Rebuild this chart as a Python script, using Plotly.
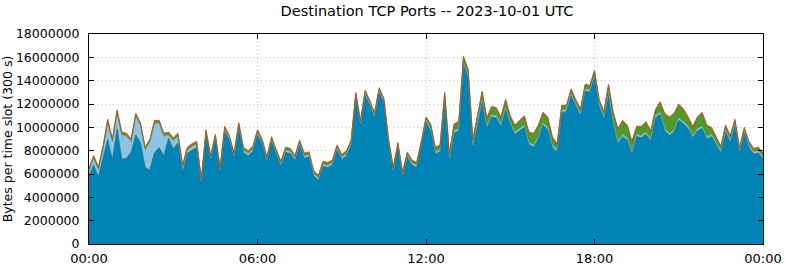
import pandas as pd
import plotly.graph_objects as go

# time slots (10-minute sampling of the day)
times = pd.date_range("2023-10-01 00:00", periods=145, freq="10min")

# values in millions of bytes per time slot
dark_blue_mb = [
    5.85, 6.75, 5.75, 7.35, 8.95, 7.15, 9.85, 7.25, 7.35, 7.85,
    9.35, 8.65, 6.55, 6.35, 7.85, 8.25, 7.55, 9.05, 8.15, 8.65,
    6.15, 7.75, 8.05, 8.25, 5.15, 9.35, 7.15, 8.95, 6.15, 9.65,
    8.85, 7.35, 9.95, 7.85, 7.55, 7.95, 9.35, 8.55, 7.05, 8.75,
    7.65, 6.65, 7.85, 7.75, 7.15, 8.45, 7.35, 7.45, 5.85, 5.45,
    6.65, 6.55, 6.75, 8.05, 7.25, 7.55, 8.45, 12.55, 10.15, 12.75,
    11.85, 10.85, 12.95, 12.05, 8.55, 6.15, 8.25, 5.75, 7.45, 6.75,
    6.55, 8.35, 10.4, 9.7, 7.7, 7.9, 12.3, 7.1, 9.5, 9.7,
    15.4, 14.3, 8.3, 10.2, 12.2, 9.9, 10.9, 10.8, 10.1, 11.5,
    10.2, 9.4, 9.7, 10.0, 8.5, 8.3, 9.0, 10.2, 9.8, 8.3,
    7.9, 11.3, 11.3, 12.7, 11.8, 11.0, 13.1, 13.0, 14.3, 11.8,
    10.7, 12.8, 10.2, 8.6, 9.2, 8.9, 7.7, 9.2, 9.1, 9.4,
    8.8, 10.8, 11.1, 9.7, 9.3, 9.6, 10.6, 10.3, 9.9, 9.1,
    9.7, 9.9, 9.0, 9.2, 8.5, 7.8, 9.6, 8.7, 10.1, 7.8,
    9.5, 8.3, 7.7, 7.8, 7.3,
]

light_blue_mb = [
    0.4, 0.6, 0.6, 0.8, 1.5, 1.6, 1.4, 2.1, 1.9, 0.9,
    1.6, 1.5, 1.5, 2.4, 2.5, 2.1, 1.7, 0.3, 0.7, 0.6,
    0.4, 0.3, 0.3, 0.3, 0.2, 0.2, 0.2, 0.2, 0.2, 0.2,
    0.2, 0.2, 0.2, 0.2, 0.2, 0.2, 0.2, 0.2, 0.2, 0.2,
    0.2, 0.2, 0.2, 0.2, 0.2, 0.2, 0.2, 0.2, 0.2, 0.2,
    0.2, 0.2, 0.2, 0.2, 0.2, 0.2, 0.2, 0.2, 0.2, 0.2,
    0.2, 0.2, 0.2, 0.2, 0.2, 0.2, 0.2, 0.2, 0.2, 0.2,
    0.2, 0.2, 0.2, 0.2, 0.2, 0.2, 0.2, 0.2, 0.2, 0.2,
    0.2, 0.2, 0.2, 0.2, 0.2, 0.2, 0.2, 0.2, 0.2, 0.2,
    0.2, 0.2, 0.2, 0.2, 0.2, 0.2, 0.2, 0.2, 0.2, 0.2,
    0.2, 0.2, 0.2, 0.2, 0.2, 0.2, 0.2, 0.2, 0.2, 0.2,
    0.2, 0.2, 0.2, 0.2, 0.2, 0.2, 0.2, 0.2, 0.2, 0.2,
    0.2, 0.2, 0.2, 0.2, 0.2, 0.2, 0.2, 0.2, 0.2, 0.2,
    0.2, 0.2, 0.2, 0.2, 0.2, 0.2, 0.2, 0.2, 0.2, 0.2,
    0.2, 0.2, 0.2, 0.2, 0.2,
]

green_mb = [
    0.15, 0.15, 0.15, 0.15, 0.15, 0.15, 0.15, 0.15, 0.15, 0.15,
    0.15, 0.15, 0.15, 0.15, 0.15, 0.15, 0.15, 0.15, 0.15, 0.15,
    0.15, 0.15, 0.15, 0.15, 0.15, 0.15, 0.15, 0.15, 0.15, 0.15,
    0.15, 0.15, 0.15, 0.15, 0.15, 0.15, 0.15, 0.15, 0.15, 0.15,
    0.15, 0.15, 0.15, 0.15, 0.15, 0.15, 0.15, 0.15, 0.15, 0.15,
    0.15, 0.15, 0.15, 0.15, 0.15, 0.15, 0.15, 0.15, 0.15, 0.15,
    0.15, 0.15, 0.15, 0.15, 0.15, 0.15, 0.15, 0.15, 0.15, 0.15,
    0.15, 0.15, 0.2, 0.3, 0.3, 0.3, 0.4, 0.4, 0.5, 0.5,
    0.4, 0.4, 0.4, 0.5, 0.6, 0.6, 0.6, 0.6, 0.5, 0.6,
    0.5, 0.5, 0.6, 0.7, 0.8, 0.9, 0.9, 0.8, 0.8, 0.6,
    0.4, 0.3, 0.3, 0.3, 0.3, 0.3, 0.3, 0.3, 0.3, 0.3,
    0.4, 0.6, 0.8, 1.0, 1.1, 1.0, 0.8, 0.6, 0.7, 0.8,
    0.6, 0.4, 0.8, 1.2, 1.3, 1.3, 1.1, 1.0, 0.7, 0.7,
    0.9, 1.1, 0.9, 0.5, 0.4, 0.3, 0.3, 0.3, 0.3, 0.2,
    0.2, 0.2, 0.2, 0.2, 0.2,
]

orange_mb = [0.1] * 145

series = [
    ("dark blue", dark_blue_mb, "#0083b5", "#006a94"),
    ("light blue", light_blue_mb, "#8cc5e3", "#5a9fc5"),
    ("green", green_mb, "#4e9b2a", "#3b7d1c"),
    ("orange", orange_mb, "#d8641a", "#c8501a"),
]

fig = go.Figure()
for name, vals, fill, line in series:
    fig.add_trace(go.Scatter(
        x=times, y=[v * 1e6 for v in vals], name=name,
        mode="lines", stackgroup="one",
        line=dict(color=line, width=0.8), fillcolor=fill,
    ))

fig.update_layout(
    width=785, height=268,
    margin=dict(l=89, r=22, t=34, b=24, autoexpand=False),
    paper_bgcolor="white", plot_bgcolor="white",
    font=dict(family="DejaVu Sans", size=12.5, color="black"),
    showlegend=False,
    title=dict(text="Destination TCP Ports -- 2023-10-01 UTC",
               x=0.544, xanchor="center",
               y=1 - 11 / 268, yanchor="middle", font=dict(size=14.5)),
)
fig.update_xaxes(
    range=["2023-10-01 00:00", "2023-10-02 00:00"],
    tickformat="%H:%M", dtick=6 * 3600 * 1000,
    tick0="2023-10-01 00:00", tickfont=dict(size=13),
    showgrid=True, gridcolor="#c4c4c4", griddash="1px,3px", gridwidth=1,
    showline=True, linecolor="black", linewidth=1, mirror="ticks",
    ticks="inside", ticklen=5, tickcolor="black",
    zeroline=False, automargin=False, ticklabelstandoff=2,
)
fig.update_yaxes(
    range=[0, 18000000], dtick=2000000, tickformat="d",
    showgrid=True, gridcolor="#c4c4c4", griddash="1px,3px", gridwidth=1,
    showline=True, linecolor="black", linewidth=1, mirror="ticks",
    ticks="inside", ticklen=5, tickcolor="black",
    zeroline=False, automargin=False, ticklabelstandoff=6,
    title=dict(text="Bytes per time slot (300 s)", font=dict(size=12.5), standoff=2),
)

fig.write_html(
    "out.html",
    config={"displayModeBar": False},
    post_script="document.body.style.margin='0';document.body.style.overflow='hidden';",
)
